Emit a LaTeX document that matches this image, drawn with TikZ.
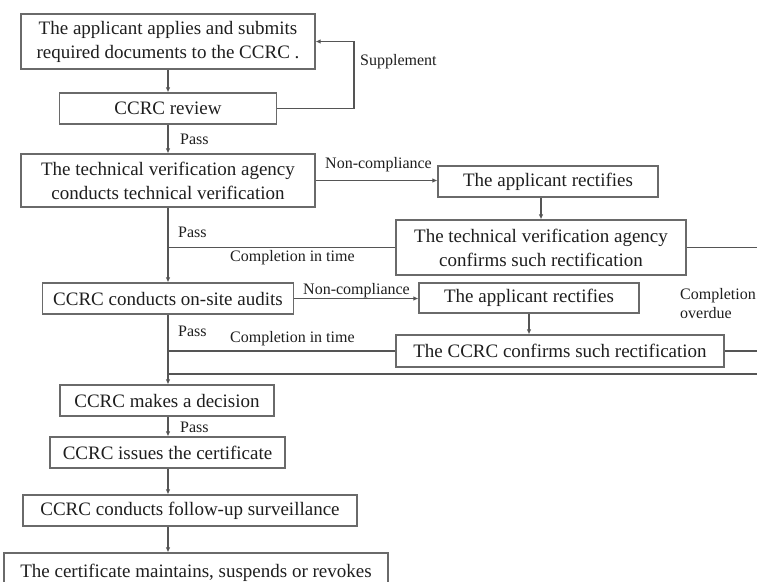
\documentclass[tikz,border=0pt]{standalone}
\usepackage{fontspec}
\setmainfont{Liberation Serif}
\usetikzlibrary{arrows.meta}
\definecolor{linec}{HTML}{555555}
\definecolor{boxc}{HTML}{6A6A6A}
\definecolor{txtc}{HTML}{1E1E1E}
\tikzset{
  box/.style={draw=boxc, line width=1.2pt, inner sep=0pt, align=center, text=txtc,
    font=\fontsize{19}{24}\selectfont},
  lbl/.style={inner sep=0pt, anchor=west, text=txtc, font=\fontsize{16}{19}\selectfont, align=left},
  conn/.style={draw=linec, line width=1.2pt},
  arr/.style={conn, -{Latex[length=5pt,width=4.5pt]}}
}
\begin{document}
\begin{tikzpicture}[x=1pt,y=-1pt]
\useasboundingbox (0,0) rectangle (757,581);
\clip (0,0) rectangle (757,581);
% main column
\node[box, minimum width=294pt, minimum height=55pt] (b1) at (168,41.5) {The applicant applies and submits\\required documents to the CCRC .};
\node[box, minimum width=217pt, minimum height=31pt] (b2) at (168,108.5) {CCRC review};
\node[box, minimum width=294pt, minimum height=53pt] (b3) at (168,180.5) {The technical verification agency\\conducts technical verification};
\node[box, minimum width=251pt, minimum height=31pt] (b4) at (168,298.5) {CCRC conducts on-site audits};
\node[box, minimum width=214pt, minimum height=31pt] (b5) at (167,400.5) {CCRC makes a decision};
\node[box, minimum width=235pt, minimum height=31pt] (b6) at (167.5,452.5) {CCRC issues the certificate};
\node[box, minimum width=334pt, minimum height=31pt] (b7) at (190,510.5) {CCRC conducts follow-up surveillance};
\node[box, minimum width=384pt, minimum height=36pt, text depth=0pt] (b8) at (196,571) {The certificate maintains, suspends or revokes};
% right column
\node[box, minimum width=220pt, minimum height=31pt] (a1) at (548,181.5) {The applicant rectifies};
\node[box, minimum width=290pt, minimum height=55pt] (t2) at (541,247.5) {The technical verification agency\\confirms such rectification};
\node[box, minimum width=220pt, minimum height=30pt] (a2) at (529,298) {The applicant rectifies};
\node[box, minimum width=328pt, minimum height=32pt] (c2) at (560,351) {The CCRC confirms such rectification};
% coordinates
\coordinate (sup) at (354,0);
\coordinate (e1) at (757,247.5);
\coordinate (e2) at (757,351);
\coordinate (e3) at (757,374);
\coordinate (j3) at (168,374);
% connectors
\draw[arr] (b1.south) -- (b1.south |- b2.north);
\draw[arr] (b2.east) -- (b2.east -| sup) |- (b1.east);
\draw[arr] (b2.south) -- (b3.north);
\draw[arr] (b3.east) -- (b3.east -| a1.west);
\draw[arr] (a1.south -| t2.north) -- (t2.north);
\draw[arr] (b3.south) -- (b3.south |- b4.north);
\draw[conn] (t2.west) -- (t2.west -| b3.south);
\draw[conn] (t2.east) -- (e1);
\draw[arr] (b4.east) -- (b4.east -| a2.west);
\draw[arr] (a2.south) -- (a2.south |- c2.north);
\draw[conn] (c2.west) -- (c2.west -| b3.south);
\draw[conn] (c2.east) -- (e2);
\draw[conn] (e3) -- (j3);
\draw[arr] (b4.south -| b3.south) -- (b3.south |- b5.north);
\draw[arr] (b5.south -| b3.south) -- (b3.south |- b6.north);
\draw[arr] (b6.south -| b3.south) -- (b3.south |- b7.north);
\draw[arr] (b7.south -| b3.south) -- (b3.south |- b8.north);
% labels
\node[lbl] (l1) at (360,62) {Supplement};
\node[lbl] (l2) at (180,139) {Pass};
\node[lbl] (l3) at (325,165) {Non-compliance};
\node[lbl] (l4) at (178,232) {Pass};
\node[lbl] (l5) at (230,258) {Completion in time};
\node[lbl] (l6) at (303,291) {Non-compliance};
\node[lbl] (l7) at (178,331) {Pass};
\node[lbl] (l8) at (230,339) {Completion in time};
\node[lbl] (l9) at (680,304) {Completion\\overdue};
\node[lbl] (l10) at (180,427) {Pass};
\end{tikzpicture}
\end{document}
